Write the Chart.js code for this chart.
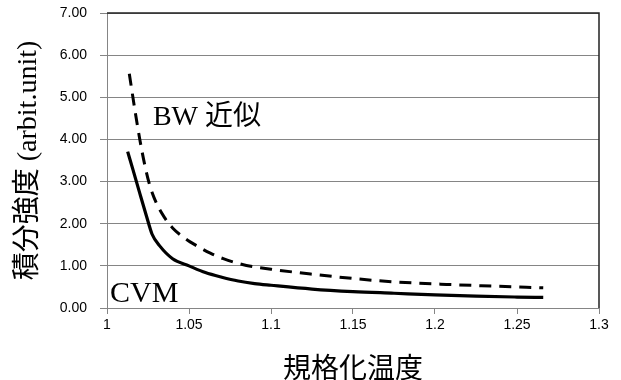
<!DOCTYPE html>
<html lang="ja">
<head>
    <meta charset="UTF-8">
    <title>積分強度 vs 規格化温度</title>
    <script src="https://cdn.jsdelivr.net/npm/chart.js"></script>
    <style>
        body { margin: 0; background: #fff; }
    </style>
</head>
<body>
    <canvas id="intensityChart" width="621" height="380"></canvas>
    <script>
        // values
        const cvmT = [1.0126, 1.016, 1.020, 1.024, 1.0275, 1.032, 1.040, 1.050, 1.060, 1.070, 1.080, 1.090, 1.100, 1.125, 1.150, 1.175, 1.200, 1.225, 1.250, 1.266];
        const cvmI = [3.71, 3.26, 2.72, 2.19, 1.75, 1.48, 1.17, 1.00, 0.84, 0.73, 0.64, 0.58, 0.54, 0.45, 0.39, 0.35, 0.31, 0.28, 0.26, 0.25];

        const bwT = [1.0136, 1.017, 1.020, 1.023, 1.026, 1.030, 1.035, 1.040, 1.048, 1.055, 1.063, 1.0709, 1.085, 1.100, 1.1256, 1.150, 1.175, 1.207, 1.235, 1.266];
        const bwI = [5.56, 4.70, 4.00, 3.40, 2.92, 2.50, 2.15, 1.90, 1.64, 1.47, 1.30, 1.17, 1.01, 0.92, 0.80, 0.70, 0.62, 0.56, 0.52, 0.48];

        const seriesNames = ['CVM', 'BW 近似'];
        const xTitle = '規格化温度';
        const yTitle = '積分強度 (arbit.unit)';

        const toPoints = (xs, ys) => xs.map((x, i) => ({ x: x, y: ys[i] }));

        const gridGray = '#858585';
        const tickFont = { family: '"Liberation Sans", Arial, sans-serif', size: 14 };
        const titleFamily = '"Liberation Serif", "Noto Sans CJK JP", serif';

        // top and right edge of the plot area, plus the in-chart series labels
        const framePlugin = {
            id: 'framePlugin',
            afterDatasetsDraw: (chart) => {
                const ctx = chart.ctx;
                const a = chart.chartArea;
                const xs = chart.scales.x;
                const ys = chart.scales.y;
                ctx.save();
                ctx.strokeStyle = '#222';
                ctx.lineWidth = 1.5;
                ctx.beginPath();
                ctx.moveTo(a.left, a.top);
                ctx.lineTo(a.right, a.top);
                ctx.lineTo(a.right, a.bottom);
                ctx.stroke();

                ctx.fillStyle = '#000';
                ctx.textBaseline = 'alphabetic';
                ctx.textAlign = 'left';
                ctx.font = '28px "Liberation Serif", "Noto Sans CJK JP", serif';
                ctx.fillText(seriesNames[1], xs.getPixelForValue(1.028), ys.getPixelForValue(4.35));
                ctx.font = '30px "Liberation Serif", serif';
                ctx.fillText(seriesNames[0], xs.getPixelForValue(1.0018), ys.getPixelForValue(0.15));
                ctx.restore();
            }
        };

        const ctx = document.getElementById('intensityChart');
        const myChart = new Chart(ctx, {
            type: 'line',
            data: {
                datasets: [{
                    label: seriesNames[0],
                    data: toPoints(cvmT, cvmI),
                    borderColor: '#000',
                    borderWidth: 3.2,
                    pointRadius: 0,
                    fill: false,
                    cubicInterpolationMode: 'monotone'
                }, {
                    label: seriesNames[1],
                    data: toPoints(bwT, bwI),
                    borderColor: '#000',
                    borderWidth: 3,
                    borderDash: [12, 8],
                    pointRadius: 0,
                    fill: false,
                    cubicInterpolationMode: 'monotone'
                }]
            },
            options: {
                responsive: false,
                animation: false,
                layout: { padding: { left: 0, top: 13, right: 22, bottom: 0 } },
                scales: {
                    x: {
                        type: 'linear',
                        min: 1,
                        max: 1.3,
                        afterFit: (scale) => {
                            scale.height = 72;
                            scale.paddingLeft = 0;
                            scale.paddingRight = 0;
                        },
                        ticks: {
                            stepSize: 0.05,
                            color: '#000',
                            font: tickFont,
                            padding: 3,
                            maxRotation: 0,
                            callback: (v) => Number(v.toFixed(2)).toString()
                        },
                        grid: {
                            drawOnChartArea: false,
                            drawTicks: true,
                            tickLength: 6,
                            color: gridGray
                        },
                        border: { color: gridGray },
                        title: {
                            display: true,
                            text: xTitle,
                            color: '#000',
                            font: { family: titleFamily, size: 28, lineHeight: 0.65 },
                            padding: { top: 0, bottom: 0 }
                        }
                    },
                    y: {
                        min: 0,
                        max: 7,
                        afterFit: (scale) => {
                            scale.width = 107;
                            scale.paddingTop = 0;
                            scale.paddingBottom = 0;
                        },
                        ticks: {
                            stepSize: 1,
                            color: '#000',
                            font: tickFont,
                            padding: 13,
                            callback: (v) => v.toFixed(2)
                        },
                        grid: {
                            color: gridGray,
                            tickLength: 7
                        },
                        border: { color: gridGray },
                        title: {
                            display: true,
                            text: yTitle,
                            color: '#000',
                            font: { family: titleFamily, size: 28, lineHeight: 1 },
                            padding: { top: 15, bottom: 0 }
                        }
                    }
                },
                plugins: {
                    legend: { display: false },
                    tooltip: { enabled: false }
                }
            },
            plugins: [framePlugin]
        });
    </script>
</body>
</html>
